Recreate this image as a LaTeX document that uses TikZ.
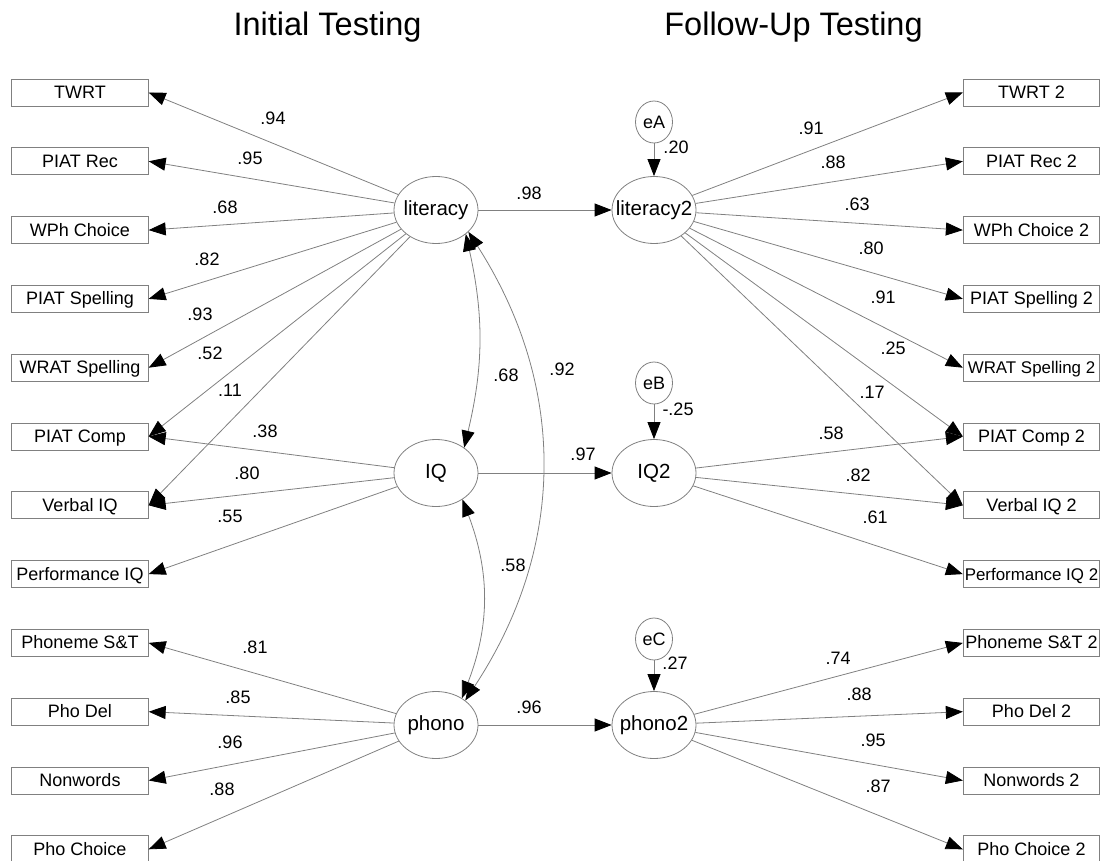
\documentclass[tikz,border=0pt]{standalone}
\usepackage{fontspec}
\setmainfont{Liberation Sans}
\usetikzlibrary{arrows.meta,shapes.geometric}
\definecolor{ln}{RGB}{128,128,128}
\begin{document}
\begin{tikzpicture}[x=1pt,y=-1pt,
 box/.style={draw=ln, line width=0.8pt, minimum width=136.5pt, minimum height=27pt, inner sep=0pt, font=\fontsize{18}{20}\selectfont, text height=12.9pt, text depth=0.8pt},
 smallbox/.style={box, font=\fontsize{16.9}{19}\selectfont},
 lat/.style={draw=ln, line width=0.8pt, ellipse, minimum width=84pt, minimum height=67pt, inner sep=0pt},
 latlab/.style={font=\fontsize{20.5}{22}\selectfont, inner sep=0pt},
 err/.style={draw=ln, line width=0.8pt, ellipse, minimum width=37pt, minimum height=42pt, inner sep=0pt, font=\fontsize{18}{20}\selectfont},
 num/.style={font=\fontsize{18}{20}\selectfont, inner sep=0pt},
 tip/.style={},
 arr/.style={draw=ln, line width=0.8pt, -{Triangle[length=17pt,width=13pt,color=black]}},
 dbl/.style={draw=ln, line width=0.8pt, {Triangle[length=17pt,width=13pt,color=black]}-{Triangle[length=17pt,width=13pt,color=black]}},
 title/.style={font=\fontsize{32.5}{36}\selectfont, anchor=base, inner sep=0pt}
]
\useasboundingbox (0,0) rectangle (1105,861);

% titles
\node[title] (t1) at (327.5,36) {Initial Testing};
\node[title] (t2) at (793.5,36) {Follow-Up Testing};

% left boxes
\node[box] (b1)  at (80,92.5)  {TWRT};
\node[box] (b2)  at (80,161.3) {PIAT Rec};
\node[box] (b3)  at (80,230.1) {WPh Choice};
\node[box] (b4)  at (80,298.9) {PIAT Spelling};
\node[box] (b5)  at (80,367.7) {WRAT Spelling};
\node[box] (b6)  at (80,436.5) {PIAT Comp};
\node[box] (b7)  at (80,505.3) {Verbal IQ};
\node[box] (b8)  at (80,574.1) {Performance IQ};
\node[box] (b9)  at (80,642.9) {Phoneme S\&T};
\node[box] (b10) at (80,711.7) {Pho Del};
\node[box] (b11) at (80,780.5) {Nonwords};
\node[box] (b12) at (80,849.3) {Pho Choice};

% right boxes
\node[box] (c1)  at (1031.5,92.5)  {TWRT 2};
\node[box] (c2)  at (1031.5,161.3) {PIAT Rec 2};
\node[box] (c3)  at (1031.5,230.1) {WPh Choice 2};
\node[box] (c4)  at (1031.5,298.9) {PIAT Spelling 2};
\node[smallbox] (c5)  at (1031.5,367.7) {WRAT Spelling 2};
\node[box] (c6)  at (1031.5,436.5) {PIAT Comp 2};
\node[box] (c7)  at (1031.5,505.3) {Verbal IQ 2};
\node[smallbox] (c8)  at (1031.5,574.1) {Performance IQ 2};
\node[box] (c9)  at (1031.5,642.9) {Phoneme S\&T 2};
\node[box] (c10) at (1031.5,711.7) {Pho Del 2};
\node[box] (c11) at (1031.5,780.5) {Nonwords 2};
\node[box] (c12) at (1031.5,849.3) {Pho Choice 2};

% latent variables
\node[lat, label={[latlab]center:literacy}] (lit) at (436,210) {};
\node[lat, label={[latlab]center:IQ}] (iq) at (436,473) {};
\node[lat, label={[latlab]center:phono}] (pho) at (436,725) {};
\node[lat, label={[latlab]center:literacy2}] (lit2) at (654,210) {};
\node[lat, label={[latlab]center:IQ2}] (iq2) at (654,473) {};
\node[lat, label={[latlab]center:phono2}] (pho2) at (654,725) {};

% errors
\node[err] (eA) at (654,122) {eA};
\node[err] (eB) at (654,383) {eB};
\node[err] (eC) at (654,639) {eC};

% left loadings
\draw[arr] (lit) -- (b1.east);
\draw[arr] (lit) -- (b2.east);
\draw[arr] (lit) -- (b3.east);
\draw[arr] (lit) -- (b4.east);
\draw[arr] (lit) -- (b5.east);
\draw[arr] (lit) -- (b6.east);
\draw[arr] (lit) -- (b7.east);
\draw[arr] (iq) -- (b6.east);
\draw[arr] (iq) -- (b7.east);
\draw[arr] (iq) -- (b8.east);
\draw[arr] (pho) -- (b9.east);
\draw[arr] (pho) -- (b10.east);
\draw[arr] (pho) -- (b11.east);
\draw[arr] (pho) -- (b12.east);

% right loadings
\draw[arr] (lit2) -- (c1.west);
\draw[arr] (lit2) -- (c2.west);
\draw[arr] (lit2) -- (c3.west);
\draw[arr] (lit2) -- (c4.west);
\draw[arr] (lit2) -- (c5.west);
\draw[arr] (lit2) -- (c6.west);
\draw[arr] (lit2) -- (c7.west);
\draw[arr] (iq2) -- (c6.west);
\draw[arr] (iq2) -- (c7.west);
\draw[arr] (iq2) -- (c8.west);
\draw[arr] (pho2) -- (c9.west);
\draw[arr] (pho2) -- (c10.west);
\draw[arr] (pho2) -- (c11.west);
\draw[arr] (pho2) -- (c12.west);

% structural paths
\draw[arr] (lit) -- (lit2);
\draw[arr] (iq) -- (iq2);
\draw[arr] (pho) -- (pho2);
\draw[arr] (eA) -- (lit2);
\draw[arr] (eB) -- (iq2);
\draw[arr] (eC) -- (pho2);

% correlations
\draw[dbl] (lit.-39) to[bend left=13] (iq.42);
\draw[dbl] (lit.-34) to[bend left=33] (pho.40);
\draw[dbl] (iq.-45) to[bend left=21] (pho.46);

% numbers left
\node[num] (n1)  at (273,118) {.94};
\node[num] (n2)  at (250,158) {.95};
\node[num] (n3)  at (225,207) {.68};
\node[num] (n4)  at (207,259) {.82};
\node[num] (n5)  at (200,314) {.93};
\node[num] (n6)  at (210,353) {.52};
\node[num] (n7)  at (230,390) {.11};
\node[num] (n8)  at (265,431) {.38};
\node[num] (n9)  at (247,473) {.80};
\node[num] (n10) at (230,516) {.55};
\node[num] (n11) at (255,647) {.81};
\node[num] (n12) at (238,697) {.85};
\node[num] (n13) at (230,742) {.96};
\node[num] (n14) at (222,789) {.88};

% numbers right
\node[num] (m1)  at (811,128) {.91};
\node[num] (m2)  at (833,162) {.88};
\node[num] (m3)  at (857,204) {.63};
\node[num] (m4)  at (871,248) {.80};
\node[num] (m5)  at (883,297) {.91};
\node[num] (m6)  at (893,348) {.25};
\node[num] (m7)  at (872,392) {.17};
\node[num] (m8)  at (831,433) {.58};
\node[num] (m9)  at (858,475) {.82};
\node[num] (m10) at (875,517) {.61};
\node[num] (m11) at (838,658) {.74};
\node[num] (m12) at (859,694) {.88};
\node[num] (m13) at (873,740) {.95};
\node[num] (m14) at (878,786) {.87};

% numbers middle
\node[num] (p1) at (529,193) {.98};
\node[num] (p2) at (583,454) {.97};
\node[num] (p3) at (529,707) {.96};
\node[num] (p4) at (676,147) {.20};
\node[num] (p5) at (678,409) {-.25};
\node[num] (p6) at (675,663) {.27};
\node[num] (p7) at (506,375) {.68};
\node[num] (p8) at (562,369) {.92};
\node[num] (p9) at (513,565) {.58};
\end{tikzpicture}
\end{document}
